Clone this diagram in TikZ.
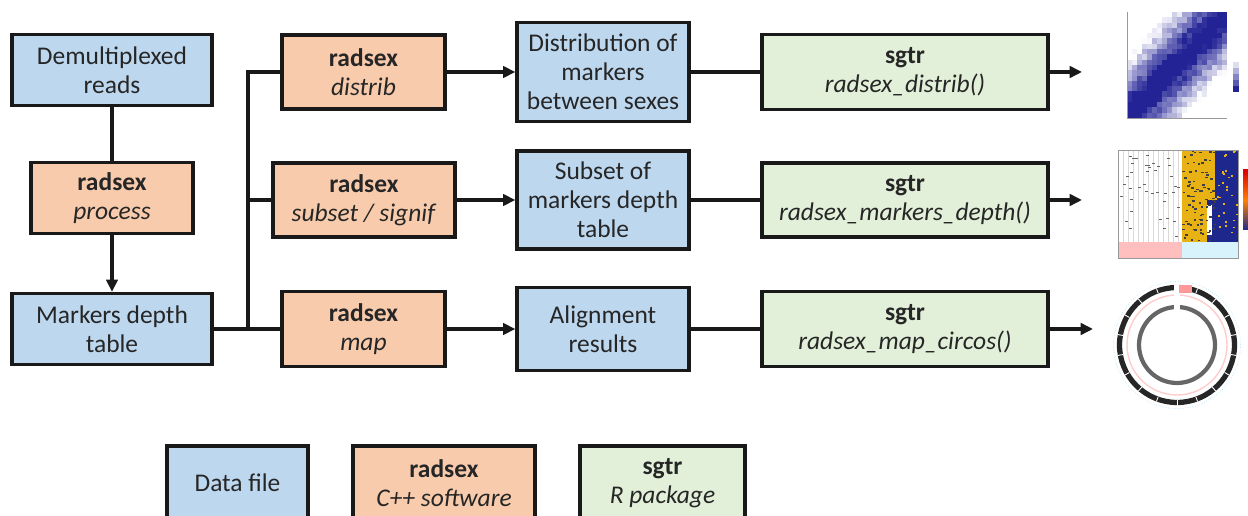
\documentclass[tikz,border=0pt]{standalone}
\usepackage{fontspec}
\setmainfont{Carlito}
\usetikzlibrary{arrows.meta,positioning}
\definecolor{datablue}{RGB}{189,215,238}
\definecolor{radorange}{RGB}{248,203,173}
\definecolor{sgtrgreen}{RGB}{226,240,217}
\definecolor{hmdark}{RGB}{35,35,150}
\definecolor{hmyellow}{RGB}{232,178,20}
\definecolor{hmblue}{RGB}{30,40,140}
\tikzset{
	box/.style={draw=black!90,line width=1.9pt,inner sep=0pt,align=center,
		text=black!85,font=\fontsize{14.5}{16.5}\selectfont},
	databox/.style={box,fill=datablue},
	toolbox/.style={box,fill=radorange},
	rpkgbox/.style={box,fill=sgtrgreen},
	link/.style={draw=black!90,line width=2.1pt},
	flow/.style={link,-{Triangle[length=7pt,width=6.5pt]}},
}
\begin{document}
\begin{tikzpicture}[x=0.02cm,y=-0.02cm]
	\clip (0,0) rectangle (1248,516);
	% first column
	\node[databox,minimum width=4cm,minimum height=1.42cm] (demux) at (112,70) {Demultiplexed\\reads};
	\node[toolbox,minimum width=3.24cm,minimum height=1.42cm] (process) at (112,198) {\textbf{radsex}\\\textit{process}};
	\node[databox,minimum width=4cm,minimum height=1.42cm] (markers) at (112,329) {Markers depth\\table};
	% radsex commands
	\node[toolbox,minimum width=3.26cm,minimum height=1.48cm] (distrib) at (363.5,72) {\textbf{radsex}\\\textit{distrib}};
	\node[toolbox,minimum width=3.64cm,minimum height=1.48cm] (subset) at (364,200) {\textbf{radsex}\\\textit{subset / signif}};
	\node[toolbox,minimum width=3.26cm,minimum height=1.5cm] (map) at (363.5,329) {\textbf{radsex}\\\textit{map}};
	% results
	\node[databox,minimum width=3.44cm,minimum height=1.98cm] (distres) at (603,72) {Distribution of\\markers\\between sexes};
	\node[databox,minimum width=3.44cm,minimum height=1.96cm] (subres) at (603,200) {Subset of\\markers depth\\table};
	\node[databox,minimum width=3.44cm,minimum height=1.66cm] (alignres) at (603,329) {Alignment\\results};
	% sgtr functions
	\node[rpkgbox,minimum width=5.72cm,minimum height=1.5cm] (plotdist) at (905,72) {\textbf{sgtr}\\\textit{radsex\_distrib()}};
	\node[rpkgbox,minimum width=5.72cm,minimum height=1.48cm] (plotdepth) at (905,200) {\textbf{sgtr}\\\textit{radsex\_markers\_depth()}};
	\node[rpkgbox,minimum width=5.72cm,minimum height=1.5cm] (plotcircos) at (905,329) {\textbf{sgtr}\\\textit{radsex\_map\_circos()}};
	% legend
	\node[databox,minimum width=2.82cm,minimum height=1.48cm] (keydata) at (237.5,483) {Data file};
	\node[toolbox,minimum width=3.64cm,minimum height=1.48cm] (keytool) at (444,483) {\textbf{radsex}\\\textit{C++ software}};
	\node[rpkgbox,minimum width=3.3cm,minimum height=1.48cm] (keyrpkg) at (662.5,483) {\textbf{sgtr}\\\textit{R package}};

	\coordinate (split) at (248,329);
	\coordinate (out1) at (1082,72);
	\coordinate (out2) at (1082,200);
	\coordinate (out3) at (1093,329);

	\draw[link] (demux) -- (process);
	\draw[flow] (process) -- (markers);
	\draw[link] (markers) -- (map);
	\draw[link] (split) |- (distrib);
	\draw[link] (split |- subset) -- (subset);
	\draw[flow] (distrib) -- (distres);
	\draw[flow] (subset) -- (subres);
	\draw[flow] (map) -- (alignres);
	\draw[link] (distres) -- (plotdist);
	\draw[link] (subres) -- (plotdepth);
	\draw[link] (alignres) -- (plotcircos);
	\draw[flow] (plotdist) -- (out1);
	\draw[flow] (plotdepth) -- (out2);
	\draw[flow] (plotcircos) -- (out3);

	% plot: distribution heatmap
	\pgfmathsetseed{7}
	\foreach \i in {0,...,19}{
		\foreach \j in {0,...,19}{
			\pgfmathtruncatemacro\s{max(0,min(100,145-12*(abs(\i-\j)+2.5*rnd)))}
			\fill[hmdark!\s!white] (1127+5*\i,118-5.3*\j) rectangle ++(5,-5.3);
		}
	}
	\draw[black!40,line width=0.3pt] (1127,12) -- (1127,118) -- (1227,118);
	\foreach \k/\s in {0/15,1/35,2/55,3/75,4/100}
		\fill[hmdark!\s!white] (1233,62+6*\k) rectangle ++(6,6);

	% plot: markers depth heatmap
	\fill[white] (1118,150) rectangle (1182,242);
	\foreach \k in {0,...,12}
		\draw[black!15,line width=0.2pt] (1118+5*\k,150) -- (1118+5*\k,242);
	\foreach \k in {1,...,40}
		\fill[black!60] ({1120+60*rnd},{152+88*rnd}) rectangle ++(3,1);
	\fill[hmyellow] (1182,150) rectangle (1215,200);
	\fill[hmyellow] (1182,200) rectangle (1207,242);
	\fill[hmblue] (1215,150) rectangle (1238,242);
	\fill[hmblue] (1207,200) rectangle (1215,242);
	\fill[white] (1207,205) rectangle (1212,235);
	\foreach \k in {1,...,90}
		\fill[black!75] ({1182+32*rnd},{150+90*rnd}) rectangle ++(2.5,1.5);
	\foreach \k in {1,...,30}
		\fill[hmyellow] ({1215+21*rnd},{150+90*rnd}) rectangle ++(2,1.5);
	\fill[red!25] (1118,242) rectangle (1182,258);
	\fill[cyan!15] (1182,242) rectangle (1238,258);
	\draw[black!40,line width=0.3pt] (1118,150) rectangle (1238,258);
	\shade[top color=red!85!black,bottom color=hmblue,middle color=orange] (1243,170) rectangle (1248,230);

	% plot: circos
	\begin{scope}[shift={(1177,345)}]
		\draw[cyan!30,line width=0.4pt,densely dotted] (0,0) circle[radius=1.27cm];
		\draw[black!85,line width=3pt] (0,0) circle[radius=1.15cm];
		\foreach \a in {10,30,...,350}
			\draw[white,line width=0.5pt] (\a:1.1cm) -- (\a:1.2cm);
		\draw[red!20,line width=0.8pt] (0,0) circle[radius=1.0cm];
		\draw[black!60,line width=2.4pt] (0,0) circle[radius=0.76cm];
		\fill[white] (-3,-62) rectangle (3,-28);
		\fill[red!40] (2,-60) rectangle (15,-52);
	\end{scope}
\end{tikzpicture}
\end{document}
